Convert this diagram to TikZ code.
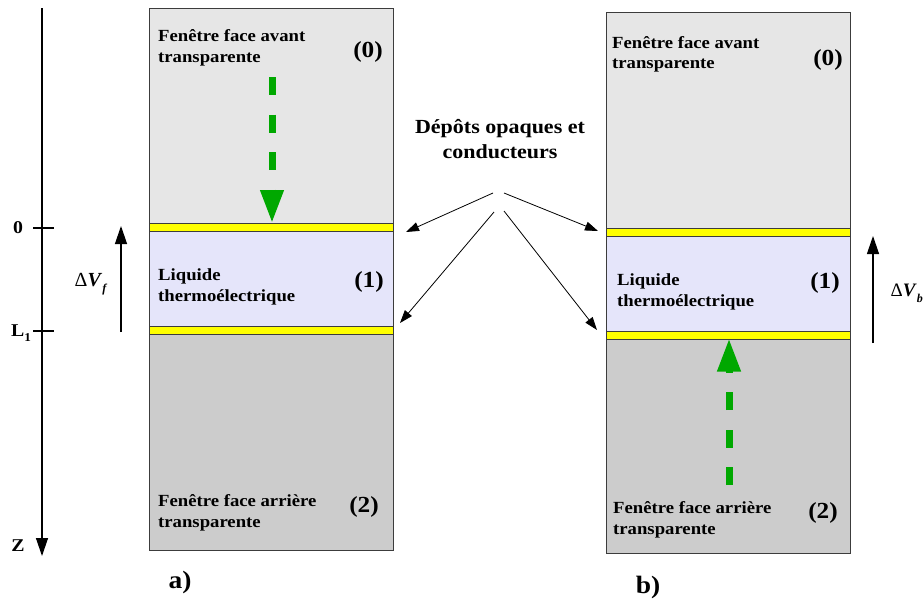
\documentclass[tikz,border=0pt]{standalone}
\usepackage{fontspec}
\setmainfont[FakeStretch=1.1]{Liberation Serif}
\newfontfamily\plainserif{Liberation Serif}
\usetikzlibrary{arrows.meta}
\definecolor{topgray}{RGB}{230,230,230}
\definecolor{botgray}{RGB}{204,204,204}
\definecolor{liquid}{RGB}{229,229,250}
\definecolor{depot}{RGB}{255,255,0}
\definecolor{flux}{RGB}{0,168,0}
\definecolor{edge}{RGB}{60,60,60}
\tikzset{
  layer/.style={draw=edge, line width=1pt, anchor=north west, inner sep=0pt, minimum width=244pt},
  boxtxt/.style={font=\bfseries\fontsize{17}{20.5}\selectfont, align=left, anchor=base west, inner sep=0pt},
  idx/.style={font=\bfseries\fontsize{23}{25}\selectfont, inner sep=0pt},
  lbl/.style={font=\bfseries\fontsize{18}{20}\selectfont, inner sep=0pt},
  pointer/.style={-{Triangle[length=13pt,width=9pt]}, line width=0.8pt},
  bigarrow/.style={-{Triangle[length=18pt,width=12pt]}, line width=1.3pt},
  fluxarrow/.style={-{Triangle[length=33pt,width=22pt]}, flux, line width=7pt, dash pattern=on 18pt off 19.5pt},
}
\begin{document}
\begin{tikzpicture}[x=1pt,y=-1pt]
\useasboundingbox[fill=white] (0,0) rectangle (924,606);

% ---- left stack (a)
\node[layer, fill=topgray, minimum height=215pt] (a0) at (149,8) {};
\node[layer, fill=depot, minimum height=8pt] (ay1) at (149,223) {};
\node[layer, fill=liquid, minimum height=95pt] (a1) at (149,231) {};
\node[layer, fill=depot, minimum height=8pt] (ay2) at (149,326) {};
\node[layer, fill=botgray, minimum height=216pt] (a2) at (149,334) {};

% ---- right stack (b)
\node[layer, fill=topgray, minimum height=216pt] (b0) at (606,12) {};
\node[layer, fill=depot, minimum height=8pt] (by1) at (606,228) {};
\node[layer, fill=liquid, minimum height=95pt] (b1) at (606,236) {};
\node[layer, fill=depot, minimum height=8pt] (by2) at (606,331) {};
\node[layer, fill=botgray, minimum height=214pt] (b2) at (606,339) {};

% ---- texts in layers (anchor = baseline of last line)
\node[boxtxt] (ta0) at (158,62) {Fenêtre face avant\\transparente};
\node[idx] (ia0) at (368,52) {(0)};
\node[boxtxt] (ta1) at (158,301) {Liquide\\thermoélectrique};
\node[idx] (ia1) at (369,282) {(1)};
\node[boxtxt] (ta2) at (158,527) {Fenêtre face arrière\\transparente};
\node[idx] (ia2) at (364,507) {(2)};

\node[boxtxt] (tb0) at (612,68.5) {Fenêtre face avant\\transparente};
\node[idx] (ib0) at (828,60) {(0)};
\node[boxtxt] (tb1) at (617,306) {Liquide\\thermoélectrique};
\node[idx] (ib1) at (825,283) {(1)};
\node[boxtxt] (tb2) at (613,534) {Fenêtre face arrière\\transparente};
\node[idx] (ib2) at (823,513) {(2)};

% ---- green flux arrows
\coordinate (ga) at (272,77);
\coordinate (gat) at (272,223);
\draw[fluxarrow] (ga) -- (gat);
\coordinate (gb) at (729,485);
\coordinate (gbt) at (729,338.5);
\draw[fluxarrow] (gb) -- (gbt);

% ---- depots label and pointers
\node[font=\bfseries\fontsize{20}{25}\selectfont, align=center, inner sep=0pt] (dep) at (500,139) {Dépôts opaques et\\conducteurs};
\coordinate (p1s) at (493,193);
\coordinate (p1e) at (406,232);
\coordinate (p2s) at (504,193);
\coordinate (p2e) at (598,231);
\coordinate (p3s) at (494,212);
\coordinate (p3e) at (400,323);
\coordinate (p4s) at (504,211);
\coordinate (p4e) at (597,330);
\draw[pointer] (p1s) -- (p1e);
\draw[pointer] (p2s) -- (p2e);
\draw[pointer] (p3s) -- (p3e);
\draw[pointer] (p4s) -- (p4e);

% ---- z axis
\coordinate (ztop) at (42,8);
\coordinate (zend) at (42,556);
\draw[bigarrow] (ztop) -- (zend);
\coordinate (t0a) at (33,228);
\coordinate (t0b) at (54,228);
\coordinate (t1a) at (33,331);
\coordinate (t1b) at (54,331);
\draw[line width=1.3pt] (t0a) -- (t0b);
\draw[line width=1.3pt] (t1a) -- (t1b);
\node[lbl] (l0) at (18,228) {0};
\node[lbl] (l1) at (21,333) {L\raisebox{-5pt}{\fontsize{12}{12}\selectfont 1}};
\node[lbl] (lz) at (18,546) {Z};

% ---- potential arrows
\coordinate (dfa) at (121,332);
\coordinate (dfb) at (121,226);
\draw[bigarrow] (dfa) -- (dfb);
\node[inner sep=0pt, font=\plainserif\fontsize{20}{22}\selectfont] (dvf) at (91,284) {Δ\textbf{\textit{V}}\raisebox{-6pt}{\fontsize{12}{12}\selectfont\textbf{\textit{f}}}};
\coordinate (dba) at (873,343);
\coordinate (dbb) at (873,236);
\draw[bigarrow] (dba) -- (dbb);
\node[inner sep=0pt, font=\plainserif\fontsize{19}{22}\selectfont, anchor=east] (dvb) at (923,293) {Δ\textbf{\textit{V}}\raisebox{-6pt}{\fontsize{12}{12}\selectfont\textbf{\textit{b}}}};

% ---- captions
\node[font=\bfseries\fontsize{25}{28}\selectfont, inner sep=0pt] (ca) at (180,582) {a)};
\node[font=\bfseries\fontsize{25}{28}\selectfont, inner sep=0pt] (cb) at (648,587) {b)};
\end{tikzpicture}
\end{document}
